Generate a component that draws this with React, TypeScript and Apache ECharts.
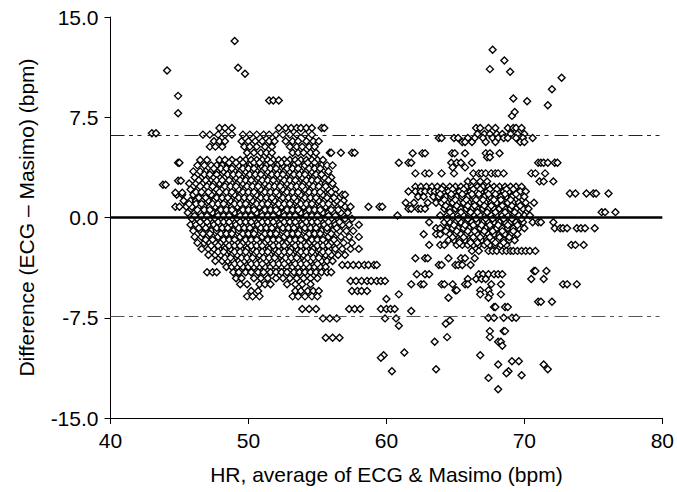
import React, { useEffect, useRef } from "react";
import * as echarts from "echarts";

// Axis settings
const xRange = [40, 80];
const xInterval = 10;
const yRange = [-15, 15];
const yInterval = 7.5;

// Bland-Altman lines
const biasLine = 0;
const upperLimit = 6.15;
const lowerLimit = -7.4;

// Isolated points [HR average, difference]
const outliers: number[][] = [
  [43.0, 6.3], [43.3, 6.3], [44.1, 11.0], [44.9, 9.1], [44.9, 7.8],
  [49.0, 13.2], [49.25, 11.2], [49.75, 10.75], [51.5, 8.75], [51.8, 8.75], [52.2, 8.75],
  [43.8, 2.45], [44.0, 2.45], [44.9, 4.1], [45.0, 4.1], [44.9, 2.75], [45.1, 2.75],
  [44.7, 1.85], [45.2, 1.85],
  [67.7, 12.55], [68.55, 11.75], [67.5, 11.1], [68.97, 10.9], [72.7, 10.45], [72.0, 9.6],
  [71.7, 8.4], [69.2, 8.9], [70.2, 8.7], [69.1, 7.6], [69.3, 7.9],
  [60.0, -6.1], [60.9, -8.1], [61.8, -7.0], [64.6, -7.7], [64.3, -7.95],
  [64.4, -8.95], [63.5, -9.3], [61.3, -10.1], [59.8, -10.3], [66.8, -10.3], [59.6, -10.5],
  [69.1, -10.75], [69.6, -10.75], [68.1, -11.0], [71.4, -11.0], [63.6, -11.35], [71.7, -11.35],
  [60.4, -11.5], [68.85, -11.5], [68.7, -11.65], [69.8, -11.8], [67.4, -12.0], [68.1, -12.85]
];

// Left cluster rows: "difference: HR averages"
const leftCluster: string[] = [
  "6.7: 47.9 48.3 48.8 52.2 52.7 53.1 53.5 53.8 54.2 54.6 55.3 55.5",
  "6.2: 46.7 47.2 47.8 48.3 48.8 49.6 50.1 50.6 51.1 51.5 52.0 52.5 53.0 53.5 54.1 54.6",
  "5.7: 47.5 47.9 48.3 49.5 50.0 50.5 51.0 51.5 51.9 52.7 53.2 53.6 54.2 54.7 55.1",
  "5.3: 47.2 47.6 48.1 49.7 50.1 50.6 51.2 51.7 53.0 53.5 53.9 54.4 54.8",
  "4.85: 49.9 50.4 50.9 51.3 51.7 53.2 53.6 54.0 54.5 54.9 55.9 56.0 56.7 57.5 57.7",
  "4.3: 46.5 47.0 47.9 48.3 48.8 49.4 49.8 50.2 50.6 51.0 51.4 51.8 52.2 52.6 53.0 53.4 53.8 54.2 54.6 55.0 55.4",
  "3.9: 46.3 46.8 47.3 47.7 48.1 48.5 48.9 49.3 49.7 50.1 50.5 50.9 51.3 51.7 52.1 52.5 52.9 53.3 53.7 54.1 54.5 54.9 55.3 55.7 56.1",
  "3.45: 46.0 46.5 46.9 47.3 47.7 48.2 48.6 49.0 49.4 49.8 50.2 50.6 51.0 51.4 51.8 52.2 52.6 53.0 53.4 53.8 54.2 54.6 55.0 55.4 55.8",
  "3.0: 46.1 46.6 47.0 47.5 47.9 48.3 48.7 49.1 49.5 49.9 50.3 50.7 51.1 51.5 51.9 52.3 52.7 53.1 53.5 53.9 54.3 54.7 55.1 55.5 56.0",
  "2.55: 45.7 46.2 46.7 47.1 47.5 47.9 48.4 48.8 49.2 49.6 50.0 50.4 50.8 51.2 51.6 52.0 52.4 52.8 53.2 53.6 54.0 54.4 54.8 55.2 55.6 56.1",
  "2.1: 45.8 46.3 46.8 47.2 47.7 48.1 48.5 48.9 49.3 49.7 50.1 50.5 50.9 51.3 51.7 52.1 52.5 52.9 53.3 53.7 54.1 54.5 54.9 55.4 55.8 56.3",
  "1.7: 44.8 45.2 46.0 46.4 46.9 47.3 47.8 48.2 48.6 49.0 49.4 49.8 50.2 50.6 51.0 51.4 51.8 52.2 52.6 53.0 53.4 53.8 54.2 54.6 55.0 55.4 55.8 56.3 56.8 57.0",
  "1.25: 45.3 45.8 46.2 46.6 47.1 47.5 47.9 48.3 48.7 49.1 49.5 49.9 50.3 50.7 51.1 51.5 51.9 52.3 52.7 53.1 53.5 53.9 54.3 54.7 55.1 55.5 55.9 56.4 56.9",
  "0.8: 44.7 45.0 45.5 45.9 46.4 46.8 47.2 47.6 48.0 48.4 48.8 49.2 49.6 50.0 50.4 50.8 51.2 51.6 52.0 52.4 52.8 53.2 53.6 54.0 54.4 54.8 55.2 55.6 56.0 56.5 57.0 57.4 58.7 59.5 59.7",
  "0.35: 45.6 46.1 46.5 47.0 47.4 47.8 48.2 48.6 49.0 49.4 49.8 50.2 50.6 51.0 51.4 51.8 52.2 52.6 53.0 53.4 53.8 54.2 54.6 55.0 55.4 55.8 56.2 56.7 57.2",
  "-0.1: 45.9 46.3 46.8 47.2 47.6 48.0 48.4 48.8 49.2 49.6 50.0 50.4 50.8 51.2 51.6 52.0 52.4 52.8 53.2 53.6 54.0 54.4 54.8 55.2 55.6 56.0 56.5 57.0 57.5",
  "-0.55: 45.8 46.2 46.7 47.1 47.5 47.9 48.3 48.7 49.1 49.5 49.9 50.3 50.7 51.1 51.5 51.9 52.3 52.7 53.1 53.5 53.9 54.3 54.7 55.1 55.5 55.9 56.3 56.8 57.3 58.0",
  "-1.0: 46.0 46.5 46.9 47.3 47.7 48.1 48.5 48.9 49.3 49.7 50.1 50.5 50.9 51.3 51.7 52.1 52.5 52.9 53.3 53.7 54.1 54.5 54.9 55.3 55.7 56.1 56.6 57.1 57.6",
  "-1.45: 46.1 46.6 47.0 47.4 47.8 48.2 48.6 49.0 49.4 49.8 50.2 50.6 51.0 51.4 51.8 52.2 52.6 53.0 53.4 53.8 54.2 54.6 55.0 55.4 55.8 56.2 56.7 57.3 58.0",
  "-1.9: 46.3 46.8 47.2 47.6 48.0 48.4 48.8 49.2 49.6 50.0 50.4 50.8 51.2 51.6 52.0 52.4 52.8 53.2 53.6 54.0 54.4 54.8 55.2 55.6 56.0 56.4 56.9 57.5",
  "-2.35: 46.6 47.1 47.5 47.9 48.3 48.7 49.1 49.5 49.9 50.3 50.7 51.1 51.5 51.9 52.3 52.7 53.1 53.5 53.9 54.3 54.7 55.1 55.5 55.9 56.3 56.8 57.4 58.0",
  "-2.8: 47.1 47.6 48.0 48.4 48.8 49.2 49.6 50.0 50.4 50.8 51.2 51.6 52.0 52.4 52.8 53.2 53.6 54.0 54.4 54.8 55.2 55.6 56.0 56.5 57.0",
  "-3.25: 47.6 48.1 48.5 48.9 49.3 49.7 50.1 50.5 50.9 51.3 51.7 52.1 52.5 52.9 53.3 53.7 54.1 54.5 54.9 55.3 55.7 56.1",
  "-3.55: 56.8 57.2 57.6 58.0 58.4 58.7 59.1 59.3",
  "-3.7: 48.4 48.8 49.2 49.6 50.0 50.4 50.8 51.2 51.6 52.0 52.4 52.8 53.2 53.6 54.0 54.4 54.8 55.2 55.6",
  "-4.1: 47.0 47.4 47.7 48.9 49.3 49.8 50.2 50.7 51.1 51.6 52.0 52.4 52.8 53.3 53.7 54.1 54.5 54.9 55.3 55.7 56.0",
  "-4.55: 49.1 49.5 50.4 50.9 51.4 52.0 52.5 53.0 53.5 54.0 54.5 55.0",
  "-4.75: 57.4 57.8 58.2 58.6 58.9 59.3 59.6 59.9",
  "-5.0: 49.4 49.9 50.8 51.2 51.6 52.8 53.4 53.9 54.5",
  "-5.5: 50.2 50.7 53.4 53.8 54.3 54.7 55.1 57.5 57.9 58.2 58.6",
  "-5.9: 49.9 50.3 50.8 53.2 53.6 54.1 54.6 55.0",
  "-6.85: 53.9 54.4 54.9 57.3 57.7 58.1 59.6 60.0 60.3 60.6",
  "-7.55: 55.4 55.9 56.4 59.9 60.7",
  "-9.0: 55.6 56.1 56.6"
];

// Extra in-between rows of the dense left core
const leftCore: string[] = [
  "4.1: 48.6 49.1 49.6 50.4 50.8 51.6 52.4 52.8 53.6 54.3 54.8",
  "3.67: 47.5 48.0 48.4 48.8 49.6 50.0 50.4 51.2 51.6 52.0 52.8 53.2 53.6 54.4 54.8 55.2",
  "3.22: 46.8 47.2 47.7 48.5 48.9 49.3 50.1 50.5 50.9 51.7 52.1 52.5 53.3 53.7 54.1 54.9 55.3",
  "2.78: 46.4 46.9 47.7 48.1 48.6 49.4 49.8 50.2 51.0 51.4 51.8 52.6 53.0 53.4 54.2 54.6 55.0 55.8",
  "2.33: 46.5 47.0 47.4 48.3 48.7 49.1 49.9 50.3 50.7 51.5 51.9 52.3 53.1 53.5 53.9 54.7 55.1 55.6",
  "1.9: 46.2 46.6 47.1 47.9 48.4 48.8 49.6 50.0 50.4 51.2 51.6 52.0 52.8 53.2 53.6 54.4 54.8 55.2 56.0",
  "1.47: 46.4 46.9 47.7 48.1 48.5 49.3 49.7 50.1 50.9 51.3 51.7 52.5 52.9 53.3 54.1 54.5 54.9 55.7 56.2",
  "1.02: 45.7 46.2 46.6 47.4 47.8 48.2 49.0 49.4 49.8 50.6 51.0 51.4 52.2 52.6 53.0 53.8 54.2 54.6 55.4 55.8 56.7",
  "0.57: 46.3 46.8 47.2 48.0 48.4 48.8 49.6 50.0 50.4 51.2 51.6 52.0 52.8 53.2 53.6 54.4 54.8 55.2 56.0 56.5",
  "0.12: 46.1 46.6 47.0 47.8 48.2 48.6 49.4 49.8 50.2 51.0 51.4 51.8 52.6 53.0 53.4 54.2 54.6 55.0 55.8 56.3",
  "-0.33: 46.5 47.0 47.8 48.2 48.6 49.4 49.8 50.2 51.0 51.4 51.8 52.6 53.0 53.4 54.2 54.6 55.0 55.8 56.6",
  "-0.78: 46.4 46.9 47.7 48.1 48.5 49.3 49.7 50.1 50.9 51.3 51.7 52.5 52.9 53.3 54.1 54.5 54.9 55.7 56.4",
  "-1.22: 46.7 47.2 48.0 48.4 48.8 49.6 50.0 50.4 51.2 51.6 52.0 52.8 53.2 53.6 54.4 54.8 55.2 56.0",
  "-1.67: 46.9 47.4 48.2 48.6 49.0 49.8 50.2 50.6 51.4 51.8 52.2 53.0 53.4 53.8 54.6 55.0 55.4 56.2",
  "-2.12: 47.3 47.8 48.6 49.0 49.4 50.2 50.6 51.0 51.8 52.2 52.6 53.4 53.8 54.2 55.0 55.4 55.8",
  "-2.57: 47.8 48.2 49.0 49.4 49.8 50.6 51.0 51.4 52.2 52.6 53.0 53.8 54.2 54.6 55.4 55.8",
  "-3.02: 48.3 48.7 49.5 49.9 50.3 51.1 51.5 51.9 52.7 53.1 53.5 54.3 54.7 55.1",
  "-3.47: 49.0 49.4 50.2 50.6 51.0 51.8 52.2 52.6 53.4 53.8 54.2 55.0"
];

// Right cluster rows: "difference: HR averages"
const rightCluster: string[] = [
  "6.7: 66.5 66.8 67.4 67.9 68.8 69.2 69.4 69.8",
  "6.25: 66.6 67.1 67.5 68.0 68.4 69.0 69.5 70.0",
  "5.95: 63.8 64.0 64.9 65.2 65.9 66.4 67.0 67.7 68.1 68.5 68.8 69.4 69.9 70.6",
  "5.65: 65.5 65.7 66.2 67.2 67.9 69.7 70.0",
  "4.8: 61.9 62.6 62.8 64.75 64.95 65.7 67.2 67.5 68.2",
  "4.5: 67.3 67.5",
  "4.1: 60.9 61.6 61.8 64.7 65.1 65.4 66.2 71.0 71.2 71.4 71.7 72.2 72.4",
  "3.75: 64.8 65.7",
  "3.3: 62.1 62.8 63.1 64.0 64.9 66.3 66.7 66.9 67.2 67.6 67.9 68.1 68.5 70.5 70.8 71.5",
  "2.7: 65.9 66.3 66.8 67.3 71.1 71.4 72.1",
  "2.3: 62.1 62.5 62.9 63.3 63.7 64.1 64.6 65.0 65.4 65.8 66.2 66.6 67.0 67.4 67.8 68.2 68.6 69.0 69.4 69.8",
  "1.95: 61.6 62.1 62.5 62.8 63.2 63.5 63.8 64.2 64.5 64.9 65.3 65.7 66.1 66.5 66.9 67.3 67.7 68.1 68.5 68.9 69.3 69.7 70.1",
  "1.8: 73.3 73.7 74.5 75.0 75.2 76.1",
  "1.55: 62.3 62.7 63.4 63.8 64.3 64.7 65.1 65.5 65.9 66.3 66.7 67.1 67.5 67.9 68.3 68.7 69.1 69.6 70.0",
  "1.1: 61.4 62.0 63.0 63.6 64.0 64.4 64.8 65.2 65.6 66.0 66.4 66.8 67.2 67.6 68.0 68.4 68.8 69.2 69.6 70.1 70.7",
  "0.65: 61.6 61.8 62.3 62.5 62.8 64.2 64.6 65.0 65.4 65.8 66.2 66.6 67.0 67.4 67.8 68.2 68.6 69.0 69.4 69.9 70.3",
  "0.4: 75.6 75.85 76.6",
  "0.15: 60.8 63.9 64.4 64.8 65.2 65.6 66.0 66.4 66.8 67.2 67.6 68.0 68.4 68.8 69.2 69.6 70.0 70.4",
  "-0.35: 63.1 64.2 64.6 65.0 65.4 65.8 66.2 66.6 67.0 67.4 67.8 68.2 68.6 69.0 69.4 69.9 70.6 71.0 71.2 72.1",
  "-0.8: 63.6 63.9 64.4 64.8 65.2 65.6 66.0 66.4 66.8 67.2 67.6 68.0 68.4 68.8 69.2 69.6 70.0 72.2 72.6 72.8 73.1 73.8 74.1 74.4 75.1",
  "-1.25: 62.7 63.6 63.9 64.6 65.0 65.4 65.8 66.2 66.6 67.0 67.4 67.8 68.2 68.6 69.0 69.5",
  "-1.7: 64.5 64.9 65.3 65.7 66.1 66.5 66.9 67.3 67.7 68.1 68.5 68.9 69.3",
  "-2.05: 63.1 63.9 64.2 65.1 65.5 65.9 66.3 66.7 67.1 67.5 67.9 68.3 68.7 73.4 73.7 74.3",
  "-2.5: 66.2 66.7 67.4 67.7 68.0 68.4 68.7 69.0 69.2 69.5 69.8 70.1 70.4 70.8",
  "-3.05: 62.1 62.8 63.0 64.5 65.4 65.7 66.4",
  "-3.55: 63.8 64.0 65.0 65.2 65.5 66.1",
  "-4.0: 70.7 70.8 71.6",
  "-4.25: 62.2 62.8 63.1 66.7 67.0 67.4 67.8 68.1 68.4",
  "-4.6: 65.9 66.5 66.9 67.2 70.5 71.4",
  "-5.0: 61.8 62.5 62.7 64.0 64.2 64.8 65.7 65.9 67.6 68.3 72.8 73.1 73.8",
  "-5.45: 65.0 65.1 66.8 67.4",
  "-5.75: 60.9 66.8 67.5 68.3",
  "-6.0: 64.5 67.4",
  "-6.3: 71.0 71.2 72.0",
  "-6.7: 67.8 67.9 68.6 68.8",
  "-7.5: 67.4 67.8 68.5 69.1 69.4",
  "-8.5: 67.5 68.5 68.6",
  "-8.95: 67.5",
  "-9.3: 68.1 68.3",
  "-9.6: 68.4"
];

// Extra in-between rows of the dense right core
const rightCore: string[] = [
  "2.12: 64.0 64.8 65.6 66.3 66.8 67.5 68.0 68.7 69.2",
  "1.75: 63.9 64.7 65.5 66.2 66.7 67.4 67.9 68.6 69.4",
  "1.32: 64.2 65.0 65.8 66.5 67.0 67.8 68.3 69.0",
  "0.88: 64.3 65.1 65.9 66.4 67.1 67.6 68.4 69.1 69.7",
  "0.4: 64.6 65.4 66.1 66.6 67.3 67.9 68.6 69.3",
  "-0.1: 64.4 65.2 65.9 66.5 67.2 67.7 68.5 69.1 69.8",
  "-0.57: 64.9 65.7 66.3 66.9 67.5 68.1 68.8 69.5",
  "-1.02: 64.3 65.1 65.9 66.4 67.1 67.7 68.4 69.2",
  "-1.47: 64.8 65.6 66.3 66.8 67.5 68.2 68.9",
  "-1.88: 65.3 66.1 66.6 67.3 67.9 68.5"
];

const FONT = "'Liberation Sans', Arial, Helvetica, sans-serif";

function parseRows(rows: string[]): number[][] {
  const out: number[][] = [];
  rows.forEach((r) => {
    const [yStr, xs] = r.split(":");
    const y = Number(yStr);
    xs.trim().split(/\s+/).forEach((x) => out.push([Number(x), y]));
  });
  return out;
}

export default function App() {
  const ref = useRef<HTMLDivElement>(null);
  useEffect(() => {
    document.body.style.margin = "0";
    const chart = echarts.init(ref.current!, null, { renderer: "svg" });
    const points = [
      ...parseRows(leftCluster),
      ...parseRows(leftCore),
      ...parseRows(rightCluster),
      ...parseRows(rightCore),
      ...outliers,
    ];
    const dash = [14, 4.5, 4, 4.5, 4, 6];
    chart.setOption({
      animation: false,
      backgroundColor: "#ffffff",
      grid: { left: 110.5, right: 12.5, top: 17, bottom: 74 },
      xAxis: {
        type: "value",
        min: xRange[0],
        max: xRange[1],
        interval: xInterval,
        name: "HR, average of ECG & Masimo (bpm)",
        nameLocation: "middle",
        nameGap: 46,
        nameTextStyle: { color: "#000", fontSize: 21, fontFamily: FONT },
        axisLine: { show: true, onZero: false, lineStyle: { color: "#000", width: 1 } },
        axisTick: { show: true, length: 6, lineStyle: { color: "#000", width: 1 } },
        axisLabel: { color: "#000", fontSize: 21, margin: 12, fontFamily: FONT },
        splitLine: { show: false },
      },
      yAxis: {
        type: "value",
        min: yRange[0],
        max: yRange[1],
        interval: yInterval,
        name: "Difference (ECG – Masimo) (bpm)",
        nameLocation: "middle",
        nameGap: 74,
        nameTextStyle: { color: "#000", fontSize: 21, fontFamily: FONT },
        axisLine: { show: true, onZero: false, lineStyle: { color: "#000", width: 1 } },
        axisTick: { show: true, length: 6, lineStyle: { color: "#000", width: 1 } },
        axisLabel: {
          color: "#000",
          fontSize: 21,
          margin: 12,
          fontFamily: FONT,
          formatter: (v: number) => v.toFixed(1),
        },
        splitLine: { show: false },
      },
      series: [
        {
          type: "scatter",
          data: [],
          z: 1,
          markLine: {
            silent: true,
            symbol: ["none", "none"],
            label: { show: false },
            data: [
              { yAxis: biasLine, lineStyle: { color: "#000", width: 2.5, type: "solid" } },
              { yAxis: upperLimit, lineStyle: { color: "#222", width: 1, type: dash } },
              { yAxis: lowerLimit, lineStyle: { color: "#555", width: 1, type: dash } },
            ],
          },
        },
        {
          type: "scatter",
          data: points,
          z: 2,
          symbol: "diamond",
          symbolSize: 7,
          itemStyle: { color: "#fff", borderColor: "#000", borderWidth: 1.35, opacity: 1 },
        },
      ],
    });
    return () => chart.dispose();
  }, []);
  return <div ref={ref} style={{ width: 677, height: 492 }} />;
}
